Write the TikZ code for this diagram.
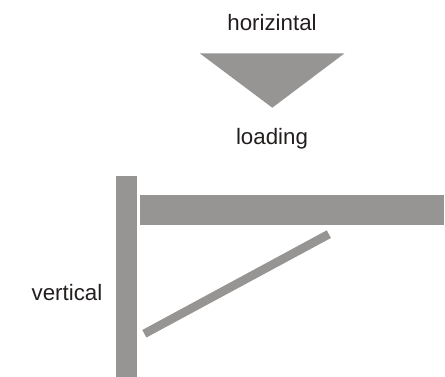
\documentclass[tikz,border=0pt]{standalone}
\usepackage{fontspec}
\setmainfont{Liberation Sans}
\definecolor{barc}{RGB}{150,149,147}
\definecolor{txtc}{RGB}{35,30,30}
\tikzset{lbl/.style={font=\fontsize{22.3}{24}\selectfont,text=txtc,inner sep=0pt,anchor=base},barf/.style={fill=barc,draw=none}}
\begin{document}
\begin{tikzpicture}[x=1pt,y=-1pt]
\useasboundingbox (0,0) rectangle (445,377);
\node[lbl] (top) at (272,31) {horizintal};
\node[lbl] (load) at (272,145) {loading};
\node[lbl] (vert) at (67,300) {vertical};
\fill[barf] (200,53.5) -- (344.3,53.5) -- (272.3,107.7) -- cycle;
\fill[barf] (115.8,176.5) rectangle (137.2,377);
\fill[barf] (140,195) rectangle (444,225);
\fill[barf] (142.3,330) -- (326.8,230.3) -- (330.9,238) -- (146.4,337.5) -- cycle;
\end{tikzpicture}
\end{document}
